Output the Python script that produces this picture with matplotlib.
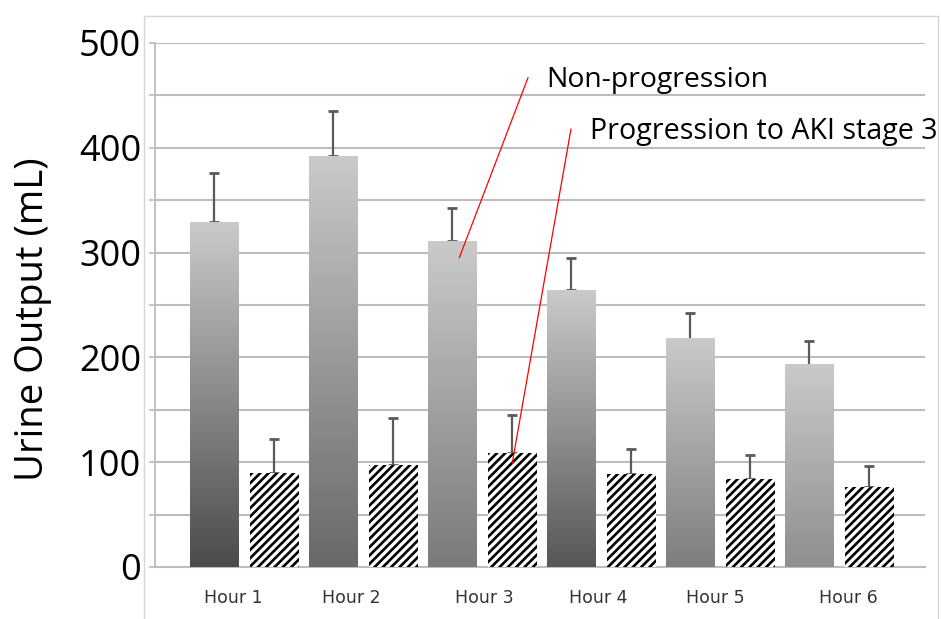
import numpy as np
import matplotlib
matplotlib.use("Agg")
import matplotlib.pyplot as plt
from matplotlib.colors import LinearSegmentedColormap
from matplotlib.patches import Rectangle

# ---- data ----
hours = ["Hour 1", "Hour 2", "Hour 3", "Hour 4", "Hour 5", "Hour 6"]
non_prog = [329, 392, 311, 264, 218, 193]
non_prog_err = [47, 43, 32, 31, 24, 23]
prog = [90, 97, 109, 89, 84, 76]
prog_err = [32, 45, 36, 24, 23, 20]
yticks = [0, 100, 200, 300, 400, 500]

# per-bar gradient bottom shade (style)
bottom_shades = ["#4b4b4b", "#686868", "#7a7a7a", "#575757", "#7e7e7e", "#8f8f8f"]
top_shade = "#cacaca"
# small horizontal offsets of the category labels (layout)
label_shift = [-0.09, -0.10, 0.02, -0.03, -0.04, 0.08]

plt.rcParams["hatch.linewidth"] = 1.9
plt.rcParams["hatch.color"] = "black"

fig = plt.figure(figsize=(9.41, 6.19), dpi=100)
fig.patch.set_facecolor("white")
ax = fig.add_axes([155/941, 1-567/619, (925-155)/941, (567-43)/619])

# outer chart border
fig.patches.append(Rectangle((144/941, -0.02), (938-144)/941, 1-16/619+0.02,
                             transform=fig.transFigure, fill=False,
                             edgecolor="#d6d6d6", linewidth=1.0, zorder=0))

x = np.arange(len(hours))
off = 0.253
w = 0.405

# gray gradient bars
for i, (xi, v) in enumerate(zip(x, non_prog)):
    cmap = LinearSegmentedColormap.from_list("g", [bottom_shades[i], top_shade])
    grad = np.linspace(0, 1, 256).reshape(-1, 1)
    ax.imshow(grad, cmap=cmap, origin="lower", aspect="auto",
              extent=[xi - off - w/2, xi - off + w/2, 0, v], zorder=3,
              interpolation="bicubic")
ax.errorbar(x - off, non_prog, yerr=[np.zeros(len(x)), non_prog_err], fmt="none",
            ecolor="#5a5a5a", elinewidth=1.6, capsize=3.5, capthick=2, zorder=2)

# hatched bars
ax.bar(x + off, prog, width=w, facecolor="white", edgecolor="black",
       hatch="////", linewidth=0, zorder=3)
ax.errorbar(x + off, prog, yerr=[np.zeros(len(x)), prog_err], fmt="none",
            ecolor="#5a5a5a", elinewidth=1.6, capsize=3.5, capthick=2, zorder=2)

ax.set_xlim(-0.751, 5.72)
ax.set_ylim(0, 500)

# grid
ax.set_yticks(yticks)
ax.set_yticks(np.arange(50, 500, 100), minor=True)
ax.yaxis.grid(True, which="both", color="#bdbdbd", linewidth=1.5, zorder=0)
ax.set_axisbelow(True)
ax.set_yticklabels([str(t) for t in yticks], fontsize=26, family="Open Sans")
ax.tick_params(axis="y", which="both", length=4, color="#bdbdbd", width=1.2, pad=6)

ax.set_xticks(x + np.array(label_shift))
ax.set_xticklabels(hours, fontsize=12.5, family="DejaVu Sans", color="#333333")
ax.tick_params(axis="x", length=0, pad=16)

for s in ["top", "right"]:
    ax.spines[s].set_visible(False)
ax.spines["left"].set_color("#bdbdbd")
ax.spines["left"].set_linewidth(1.3)
ax.spines["bottom"].set_color("#bdbdbd")
ax.spines["bottom"].set_linewidth(1.5)

fig.text(33/941, 1-319/619, "Urine Output (mL)", rotation=90, ha="center",
         va="center", fontsize=27.5, family="Open Sans")

# annotations
ax.annotate("", xy=(1.806, 295), xytext=(2.384, 467),
            arrowprops=dict(arrowstyle="-", color="red", lw=0.9, shrinkA=0, shrinkB=0))
ax.annotate("", xy=(2.251, 99), xytext=(2.745, 418),
            arrowprops=dict(arrowstyle="-", color="red", lw=0.9, shrinkA=0, shrinkB=0))
ax.text(2.54, 465, "Non-progression", fontsize=20.4, family="Open Sans",
        va="center", ha="left", zorder=5)
ax.text(2.903, 416, "Progression to AKI stage 3", fontsize=20.6, family="Open Sans",
        va="center", ha="left", zorder=5)

fig.savefig("out.png", dpi=100)
